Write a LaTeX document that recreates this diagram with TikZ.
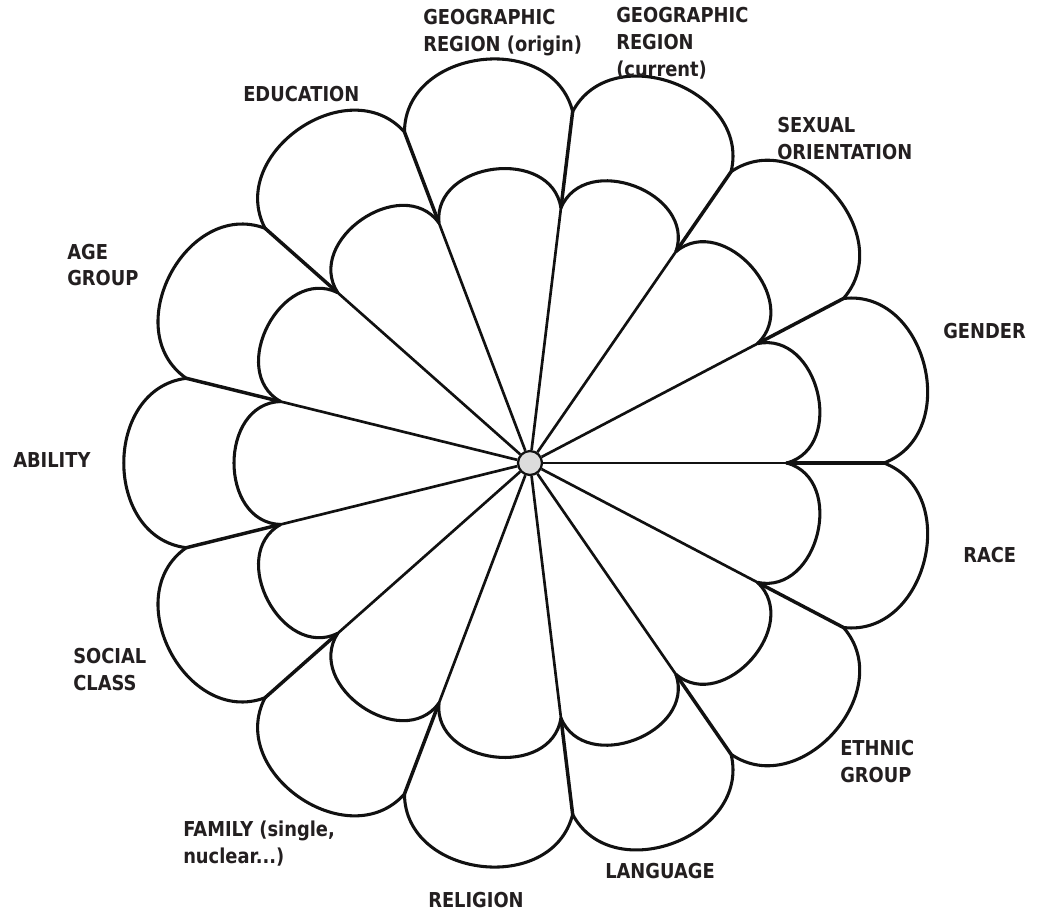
\documentclass[tikz,border=0pt]{standalone}
\usepackage{fontspec}
\setmainfont[FakeStretch=0.87]{DejaVu Sans}
\definecolor{ink}{HTML}{111111}
\definecolor{txt}{HTML}{231F20}
\definecolor{hub}{HTML}{DCDCDC}
\begin{document}
\begin{tikzpicture}[x=0.75pt,y=0.75pt,
  lab/.style={font=\fontsize{15.4}{20.25}\selectfont\bfseries, text=txt, inner sep=0pt, anchor=base west, align=left},
  spoke/.style={draw=ink, line width=2pt},
  spokeout/.style={draw=ink, line width=2.6pt, line cap=round},
  petal/.style={draw=ink, line width=2.3pt, line join=round},
  hubnode/.style={circle, draw=ink, fill=hub, line width=1.7pt, minimum size=18pt, inner sep=0pt}]
\useasboundingbox (-530,-448) rectangle (513,463);
\foreach \k in {0,...,12} {
  \coordinate (i\k) at ({\k*360/13}:257);
  \coordinate (o\k) at ({\k*360/13}:354);
}
\node[hubnode] (c) at (0,0) {};
\foreach \k in {0,...,12} {
  \draw[spoke] (c) -- (i\k);
  \draw[spokeout] (i\k) -- (o\k);
}
\foreach \k [evaluate=\k as \a using {\k*360/13}, evaluate=\k as \b using {(\k+1)*360/13}, evaluate=\k as \n using {int(mod(\k+1,13))}] in {0,...,12} {
  \draw[petal] (i\k) .. controls +({\a+16}:62) and +({\b-16}:62) .. (i\n);
  \draw[petal] (o\k) .. controls +({\a+21}:84) and +({\b-21}:84) .. (o\n);
}
\node[lab] (t0) at (-107,411) {GEOGRAPHIC\\REGION (origin)};
\node[lab] (t1) at (86,386) {GEOGRAPHIC\\REGION\\(current)};
\node[lab] (t2) at (247,303) {SEXUAL\\ORIENTATION};
\node[lab] (t3) at (413,125) {GENDER};
\node[lab] (t4) at (433,-99) {RACE};
\node[lab] (t5) at (310,-319) {ETHNIC\\GROUP};
\node[lab] (t6) at (75,-415) {LANGUAGE};
\node[lab] (t7) at (-102,-444) {RELIGION};
\node[lab] (t8) at (-347,-400) {FAMILY (single,\\nuclear...)};
\node[lab] (t9) at (-457,-227) {SOCIAL\\CLASS};
\node[lab] (t10) at (-517,-4) {ABILITY};
\node[lab] (t11) at (-463,177) {AGE\\GROUP};
\node[lab] (t12) at (-287,361) {EDUCATION};
\end{tikzpicture}
\end{document}
